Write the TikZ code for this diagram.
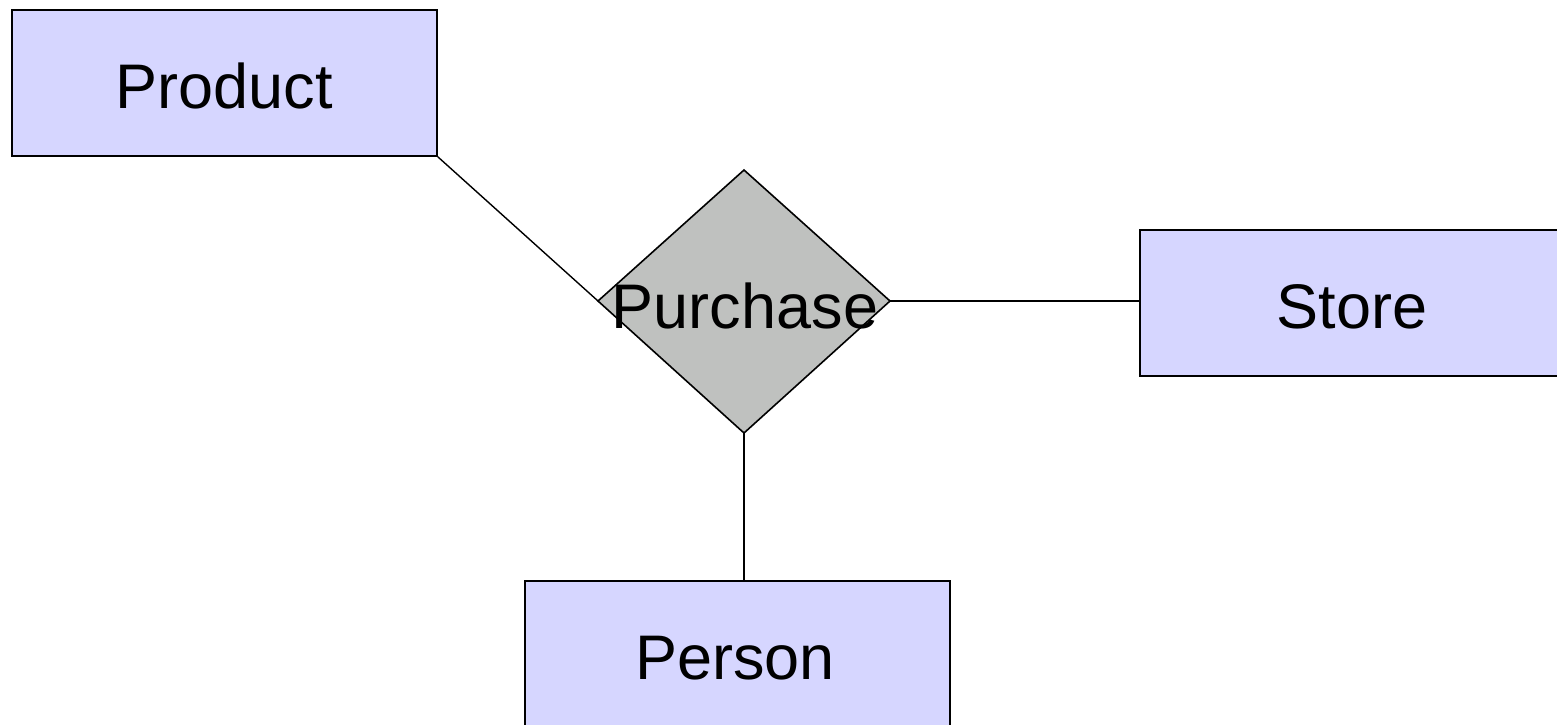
\documentclass[tikz,border=0pt]{standalone}
\usepackage{fontspec}
\setmainfont{Liberation Sans}
\definecolor{entfill}{RGB}{214,214,255}
\definecolor{relfill}{RGB}{191,193,191}
\begin{document}
\begin{tikzpicture}[x=0.5pt,y=-0.5pt,
  ent/.style={draw=black, line width=0.9pt, fill=entfill, inner sep=0pt, anchor=north west},
  rel/.style={draw=black, line width=0.8pt, fill=relfill, line join=miter},
  conn/.style={draw=black, line width=0.7pt},
  lab/.style={font=\fontsize{31.5}{36}\selectfont, inner sep=0pt, anchor=base}]
\useasboundingbox (0,0) rectangle (1557,724);
% entity boxes
\node[ent, minimum width=212.5pt, minimum height=73pt] (product) at (11,9) {};
\node[ent, minimum width=213.5pt, minimum height=73pt] (store) at (1139,229) {};
\node[ent, minimum width=212.5pt, minimum height=76pt] (person) at (524,580) {};
% diamond corners
\coordinate (dN) at (744,170);
\coordinate (dE) at (890,301);
\coordinate (dS) at (744,433);
\coordinate (dW) at (598,301);
% connectors
\draw[conn] (product.south east) -- (dW);
\draw[conn] (dE) -- (store.west |- dE);
\draw[conn] (dS) -- (dS |- person.north);
% relationship
\path[rel] (dN) -- (dE) -- (dS) -- (dW) -- cycle;
% labels
\node[lab] (productlab) at (224,108) {Product};
\node[lab] (storelab) at (1352,328) {Store};
\node[lab] (personlab) at (735,679) {Person};
\node[lab] (purchaselab) at (745,328) {Purchase};
\end{tikzpicture}
\end{document}
